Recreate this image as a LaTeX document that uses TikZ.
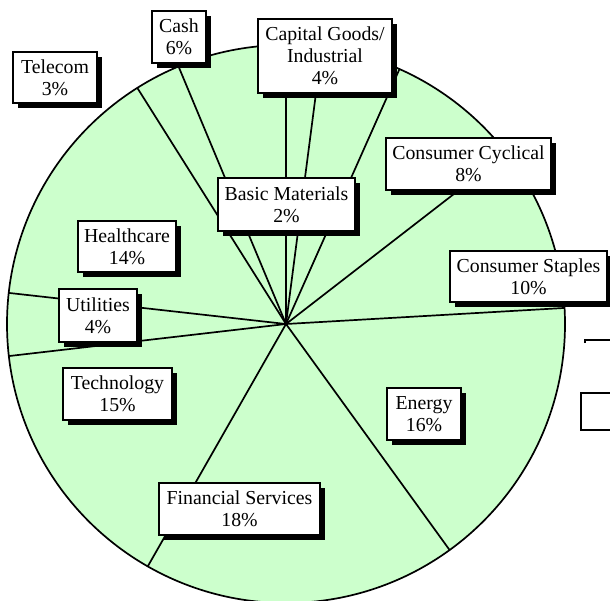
\documentclass[tikz,border=0pt]{standalone}
\usepackage{fontspec}
\setmainfont{Liberation Serif}
\usetikzlibrary{shadows}
\definecolor{piegreen}{HTML}{CCFFCC}
\tikzset{
  lbl/.style={draw=black, fill=white, line width=1.9pt, align=center, inner sep=0pt,
    font=\fontsize{19.8}{22}\selectfont,
    drop shadow={shadow xshift=5pt, shadow yshift=-5pt, fill=black, opacity=1, draw=none}},
  slice/.style={line width=1.7pt, black},
}
\begin{document}
\begin{tikzpicture}[x=1pt,y=-1pt]
\useasboundingbox (0,0) rectangle (610,600);
\coordinate (c) at (286,324);
\fill[piegreen] (c) circle[radius=279];
\foreach \a [count=\i] in {90,82.6,66,37.75,3.3,-54.1,-119.7,186.6,173.6,122.2,112.65}{
  \coordinate (e\i) at ({286+279*cos(\a)},{324-279*sin(\a)});
  \draw[slice] (c) -- (e\i);
}
\draw[line width=1.7pt] (c) circle[radius=279];
% partial legend fragments
\coordinate (lg1) at (585,343);
\coordinate (lg2) at (585,340);
\coordinate (lg3) at (614,340);
\draw[line width=1.7pt] (lg1) -- (lg2) -- (lg3);
\coordinate (lb1) at (581,393);
\coordinate (lb2) at (616,430);
\draw[line width=1.7pt] (lb1) rectangle (lb2);
% labels
\node[lbl, minimum width=84, minimum height=51] (telecom) at (55,77.5) {Telecom\\3\%};
\node[lbl, minimum width=54, minimum height=52] (cash) at (179,37) {Cash\\6\%};
\node[lbl, minimum width=134, minimum height=74] (capital) at (325,56) {Capital Goods/\\Industrial\\4\%};
\node[lbl, minimum width=137, minimum height=53] (basic) at (286.5,204.5) {Basic Materials\\2\%};
\node[lbl, minimum width=165, minimum height=52] (cyclical) at (468.5,164) {Consumer Cyclical\\8\%};
\node[lbl, minimum width=157, minimum height=51] (staples) at (528.5,276.5) {Consumer Staples\\10\%};
\node[lbl, minimum width=98, minimum height=51] (health) at (127,246.5) {Healthcare\\14\%};
\node[lbl, minimum width=78, minimum height=53] (util) at (98,315.5) {Utilities\\4\%};
\node[lbl, minimum width=109, minimum height=52] (tech) at (117.5,394) {Technology\\15\%};
\node[lbl, minimum width=161, minimum height=52] (fin) at (239.5,509) {Financial Services\\18\%};
\node[lbl, minimum width=74, minimum height=52] (energy) at (424,414) {Energy\\16\%};
\end{tikzpicture}
\end{document}
